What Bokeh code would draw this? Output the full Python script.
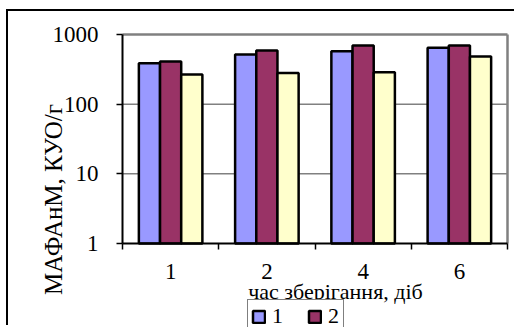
import numpy as np
from bokeh.plotting import figure
from bokeh.models import (Range1d, FixedTicker, Legend, LegendItem, Label,
                          ColumnDataSource)
from bokeh.embed import file_html
from bokeh.resources import INLINE

# ---- data ----
categories = ["1", "2", "4", "6"]
series_names = ["1", "2", "3"]
series1 = [387, 516, 575, 644]
series2 = [410, 589, 695, 695]
series3 = [267, 279, 288, 483]
y_ticks = [1, 10, 100, 1000]
y_tick_labels = ["1", "10", "100", "1000"]
x_title = "час зберігання, діб"
y_title = "МАФАнМ, КУО/г"

colors = ["#9999FF", "#993366", "#FFFFCC"]
FONT = "Liberation Serif"

n = len(categories)
centers = [i + 0.5 for i in range(n)]
bounds = [float(i) for i in range(n + 1)]

# ---- layout (canvas pixels) ----
W, H = 508, 316
PL, PR, PT, PB = 114, 499, 23, 232      # plot area inside canvas
ymin, ymax = y_ticks[0], y_ticks[-1]
ppx = (PR - PL) / n
ppd = (PB - PT) / (np.log10(ymax) - np.log10(ymin))
x0 = -PL / ppx
x1 = n + (W - PR) / ppx
y0 = 10 ** (np.log10(ymin) - (H - PB) / ppd)
y1 = 10 ** (np.log10(ymax) + PT / ppd)

p = figure(width=W, height=H, x_range=Range1d(x0, x1), y_range=Range1d(y0, y1),
           y_axis_type="log", output_backend="svg", toolbar_location=None,
           min_border=0)
p.background_fill_color = "white"
p.border_fill_color = "white"
p.outline_line_color = None
p.xgrid.visible = False
p.ygrid.visible = False

# grid lines and plot-area border (top / right, gray)
p.segment(x0=[0] * (len(y_ticks) - 2), x1=[n] * (len(y_ticks) - 2),
          y0=y_ticks[1:-1], y1=y_ticks[1:-1], line_color="#808080",
          line_width=1.5, level="underlay")
p.segment(x0=[0, n], x1=[n, n], y0=[ymax, ymin], y1=[ymax, ymax],
          line_color="#808080", line_width=2.5)

bw = 0.22
offsets = [-0.22, 0.0, 0.22]
renderers = []
for vals, off, col in zip([series1, series2, series3], offsets, colors):
    src = ColumnDataSource(dict(x=[c + off for c in centers], top=vals,
                                bottom=[ymin] * n))
    r = p.vbar(x="x", top="top", bottom="bottom", width=bw, source=src,
               fill_color=col, line_color="black", line_width=2.5)
    renderers.append(r)

# y axis
ya = p.yaxis[0]
ya.fixed_location = 0
ya.bounds = (ymin, ymax)
ya.ticker = FixedTicker(ticks=y_ticks, minor_ticks=[])
ya.major_label_overrides = {t: l for t, l in zip(y_ticks, y_tick_labels)}
ya.axis_line_color = "black"
ya.axis_line_width = 2
ya.major_tick_out = 6
ya.major_tick_in = 0
ya.major_tick_line_width = 1.5
ya.minor_tick_line_color = None
ya.major_label_standoff = 18
ya.major_label_text_font = FONT
ya.major_label_text_font_size = "23px"
ya.major_label_text_color = "black"

# x axis
xa = p.xaxis[0]
xa.fixed_location = ymin
xa.bounds = (0, n)
xa.ticker = FixedTicker(ticks=centers, minor_ticks=bounds)
xa.major_label_overrides = {c: l for c, l in zip(centers, categories)}
xa.axis_line_color = "black"
xa.axis_line_width = 2
xa.major_tick_line_color = None
xa.minor_tick_out = 6
xa.minor_tick_in = 0
xa.minor_tick_line_color = "black"
xa.minor_tick_line_width = 1.5
xa.major_label_standoff = 14
xa.major_label_text_font = FONT
xa.major_label_text_font_size = "23px"
xa.major_label_text_color = "black"

# titles (screen units, relative to frame = canvas)
p.add_layout(Label(x=327, y=36, x_units="screen", y_units="screen",
                   text=x_title, text_align="center", text_baseline="alphabetic",
                   text_font=FONT, text_font_size="22px", text_color="black"))
p.add_layout(Label(x=45, y=128, x_units="screen", y_units="screen",
                   text=y_title, angle=np.pi / 2, text_align="center",
                   text_baseline="alphabetic",
                   text_font=FONT, text_font_size="25px", text_color="black"))

# legend (only first two entries visible)
legend = Legend(items=[LegendItem(label=series_names[0], renderers=[renderers[0]]),
                       LegendItem(label=series_names[1], renderers=[renderers[1]])],
                orientation="horizontal", location=(239, -6),
                glyph_width=15, glyph_height=15, label_standoff=6, spacing=23,
                label_width=12, padding=3, margin=0,
                border_line_color="black", border_line_width=1.5,
                background_fill_color="white", background_fill_alpha=1,
                label_text_font=FONT, label_text_font_size="22px",
                label_text_color="black")
p.add_layout(legend, "center")

p.styles = {"margin-left": "6px", "margin-top": "9px",
            "border-top": "2px solid black", "border-left": "2px solid black"}

open("out.html", "w").write(file_html(p, INLINE))
